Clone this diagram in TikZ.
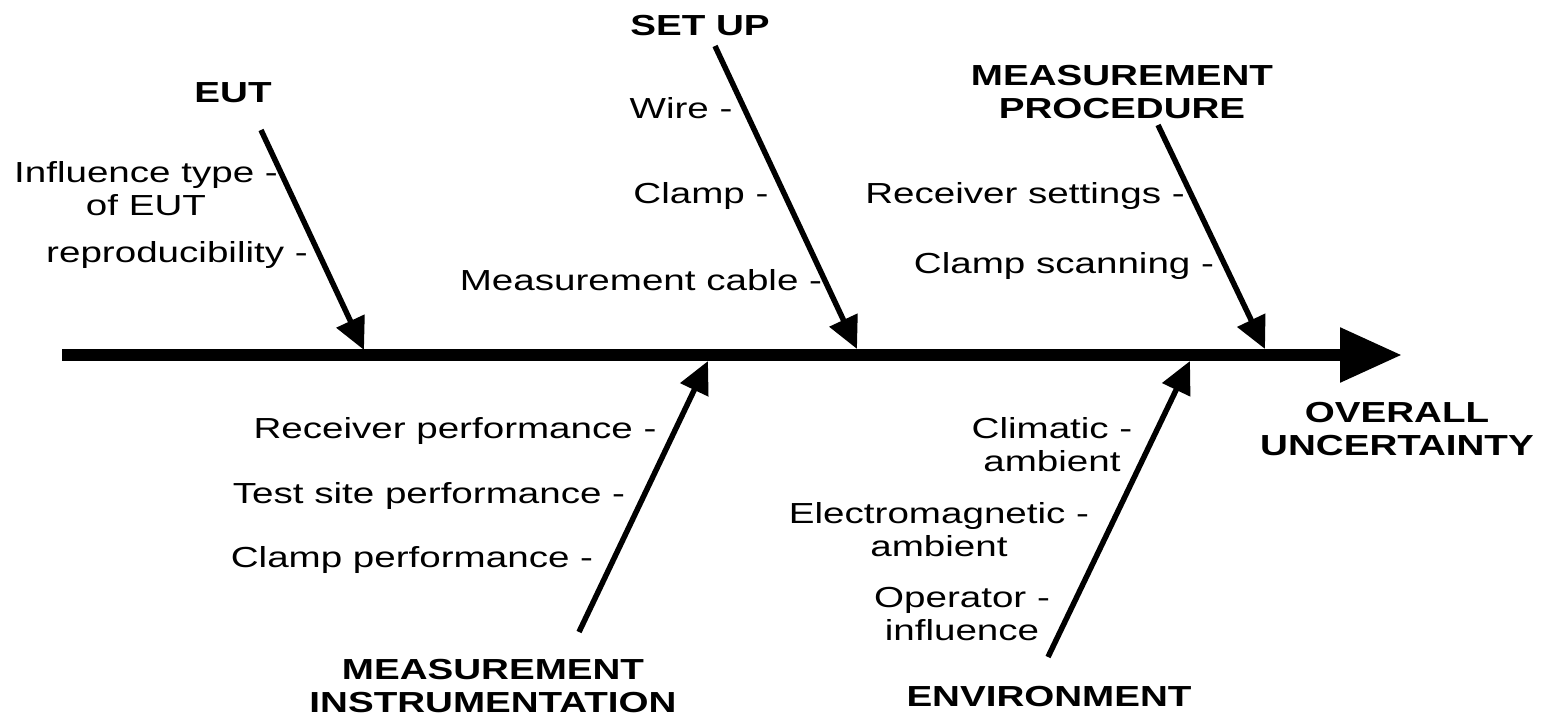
\documentclass[tikz,border=0pt]{standalone}
\usepackage{fontspec}
\setmainfont{Liberation Sans}[FakeStretch=1.33]
\usetikzlibrary{arrows.meta}

\begin{document}
\begin{tikzpicture}[
  x=1pt, y=-1pt,
  %% Main spine — heavy black arrow
  spine/.style={line width=12pt, -{Triangle[length=62pt,width=52pt]}},
  %% Category bones — thinner arrows onto the spine
  bone/.style={line width=5.5pt, -{Triangle[length=32pt,width=30pt]}},
  %% Category headers — bold caps (base = last line)
  cat/.style={anchor=base, align=center, inner sep=0pt,
    font=\fontsize{29}{33}\selectfont\bfseries},
  %% Cause labels — plain
  cause/.style={anchor=base, align=center, inner sep=0pt,
    font=\fontsize{29}{33}\selectfont}
]
\useasboundingbox (0,0) rectangle (1543,718);

%% ── Spine ────────────────────────────────────────────────────
\coordinate (tail) at (62,355);
\coordinate (head) at (1402,355);
\draw[spine] (tail) -- (head);
\node[cat] (overall) at (1397,455) {OVERALL\\UNCERTAINTY};

%% ── Upper bones ──────────────────────────────────────────────
\coordinate (eutA) at (261,130);  \coordinate (eutB) at (364,350);
\coordinate (setA) at (715,46);   \coordinate (setB) at (857,349);
\coordinate (proA) at (1158,125); \coordinate (proB) at (1265,349);

\draw[bone] (eutA) -- (eutB);
\draw[bone] (setA) -- (setB);
\draw[bone] (proA) -- (proB);

\node[cat] (eut)   at (233,102)  {EUT};
\node[cat] (setup) at (700,35)   {SET UP};
\node[cat] (proc)  at (1122,118) {MEASUREMENT\\PROCEDURE};

\node[cause] (infl)  at (146,215)  {Influence type -\\of EUT};
\node[cause] (repro) at (177,262)  {reproducibility -};
\node[cause] (wire)  at (681,118)  {Wire -};
\node[cause] (clamp) at (701,203)  {Clamp -};
\node[cause] (mcab)  at (641,290)  {Measurement cable -};
\node[cause] (rxset) at (1025,203) {Receiver settings -};
\node[cause] (cscan) at (1064,273) {Clamp scanning -};

%% ── Lower bones ──────────────────────────────────────────────
\coordinate (insA) at (579,632);  \coordinate (insB) at (708,361);
\coordinate (envA) at (1048,657); \coordinate (envB) at (1190,361);

\draw[bone] (insA) -- (insB);
\draw[bone] (envA) -- (envB);

\node[cat] (instr) at (493,712)  {MEASUREMENT\\INSTRUMENTATION};
\node[cat] (env)   at (1049,706) {ENVIRONMENT};

\node[cause] (rxperf) at (455,438)  {Receiver performance -};
\node[cause] (tsite)  at (429,503)  {Test site performance -};
\node[cause] (cperf)  at (412,567)  {Clamp performance -};
\node[cause] (clim)   at (1052,471) {Climatic -\\ambient};
\node[cause] (emag)   at (939,556)  {Electromagnetic -\\ambient};
\node[cause] (oper)   at (962,640)  {Operator -\\influence};

\end{tikzpicture}
\end{document}
